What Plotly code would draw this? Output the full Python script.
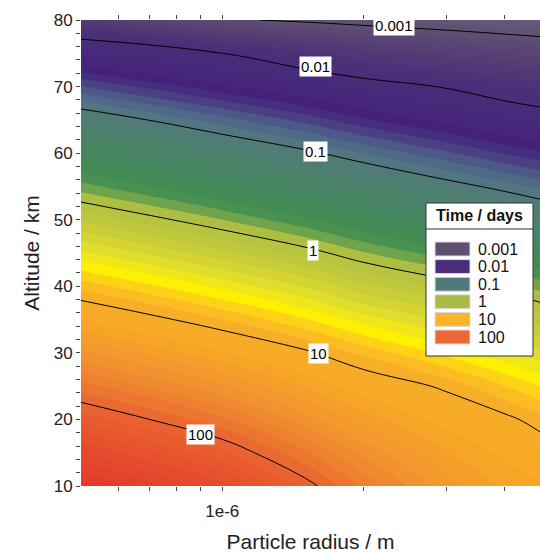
import math
import plotly.graph_objects as go

# ---- data: sedimentation time (log10 of days) on a radius x altitude grid ----
radius_m = [5e-7, 1e-6, 1.5e-6, 2e-6, 3e-6, 4e-6, 4.75e-6]
altitude_km = [10, 15, 20, 25, 30, 35, 40, 45, 50, 55, 60, 65, 70, 75, 77.5, 80]
log10_time_days = [
    [2.84, 2.44, 2.06, 1.78, 1.44, 1.28, 1.22],
    [2.51, 2.12, 1.81, 1.57, 1.31, 1.17, 1.10],
    [2.17, 1.82, 1.55, 1.35, 1.15, 1.04, 0.94],
    [1.84, 1.52, 1.29, 1.13, 0.97, 0.80, 0.70],
    [1.52, 1.21, 1.03, 0.87, 0.67, 0.52, 0.43],
    [1.19, 0.90, 0.71, 0.55, 0.38, 0.24, 0.15],
    [0.86, 0.57, 0.39, 0.23, 0.07, -0.05, -0.14],
    [0.52, 0.23, 0.06, -0.09, -0.26, -0.38, -0.46],
    [0.18, -0.10, -0.28, -0.42, -0.59, -0.72, -0.79],
    [-0.16, -0.45, -0.62, -0.75, -0.93, -1.05, -1.13],
    [-0.51, -0.79, -0.96, -1.10, -1.28, -1.41, -1.48],
    [-0.86, -1.16, -1.34, -1.48, -1.65, -1.76, -1.84],
    [-1.29, -1.58, -1.73, -1.86, -2.02, -2.18, -2.26],
    [-1.78, -2.00, -2.24, -2.42, -2.60, -2.70, -2.75],
    [-2.04, -2.47, -2.65, -2.77, -2.89, -2.96, -3.00],
    [-2.55, -2.96, -3.05, -3.11, -3.17, -3.22, -3.25],
]

# labelled contour levels (log10 days) and their printed text
line_levels = [-3, -2, -1, 0, 1, 2]
line_texts = ["0.001", "0.01", "0.1", "1", "10", "100"]
# where each label sits along its contour (radius, altitude)
label_radius = [2.32e-6, 1.58e-6, 1.58e-6, 1.56e-6, 1.60e-6, 9.0e-7]
label_altitude = [79.2, 73.0, 60.2, 45.4, 29.9, 17.8]

# legend swatches
legend_title = "Time / days"
legend_labels = ["0.001", "0.01", "0.1", "1", "10", "100"]
legend_colors = ["#5f5072", "#4a2e7b", "#527979", "#a8bb47", "#fbb52a", "#ec6733"]

# colour ramp keyed by log10(days)
ramp_values = [-3.3, -3.0, -2.6, -2.2, -1.8, -1.5, -1.35, -1.2, -1.05, -0.9, -0.6,
               -0.35, -0.18, -0.08, 0.0, 0.25, 0.5, 0.72, 0.85, 1.0, 1.3, 1.6,
               1.85, 2.05, 2.4, 2.9, 3.0]
ramp_colors = ["#6c5c7c", "#5f5072", "#563f74", "#4c3178", "#482a7a", "#44217a",
               "#483a82", "#4d5c88", "#517484", "#507c76", "#4a8466",
               "#3f8a56", "#4a9250", "#78a849", "#acbf42", "#c3ca3b", "#dedc2e",
               "#fff100", "#fdc81f", "#f8b028", "#f6a626", "#f29530",
               "#ee7f30", "#ea6731", "#e6532e", "#e33a2a", "#e2362a"]

zmin, zmax = ramp_values[0], ramp_values[-1]
colorscale = [[(v - zmin) / (zmax - zmin), c] for v, c in zip(ramp_values, ramp_colors)]

FONT = "Arial, Liberation Sans, sans-serif"
W, H = 540, 553
M_L, M_R, M_T, M_B = 81, 0, 20, 67

fig = go.Figure()

# finely banded filled contours
fig.add_trace(go.Contour(
    x=radius_m, y=altitude_km, z=log10_time_days,
    colorscale=colorscale, zmin=zmin, zmax=zmax, showscale=False,
    contours=dict(coloring="fill", start=-3.4, end=3.0, size=0.1, showlines=False),
    line=dict(width=0, smoothing=1.3),
    hoverinfo="skip",
))

# black decade lines
fig.add_trace(go.Contour(
    x=radius_m, y=altitude_km, z=log10_time_days,
    showscale=False,
    contours=dict(coloring="none", start=line_levels[0], end=line_levels[-1], size=1,
                  showlines=True),
    line=dict(color="black", width=1, smoothing=1.3),
    hoverinfo="skip",
))

# contour labels on white boxes
for txt, r, a in zip(line_texts, label_radius, label_altitude):
    fig.add_annotation(x=math.log10(r), y=a, xref="x", yref="y", text=txt,
                       showarrow=False, bgcolor="white", borderpad=1,
                       xanchor="center", yanchor="middle",
                       font=dict(family=FONT, size=15, color="black"))

# legend box drawn in paper coordinates
pw = W - M_L - M_R
ph = H - M_T - M_B


def px(x):
    return (x - M_L) / pw


def py(y):
    return (H - M_B - y) / ph


box_l, box_r, box_t, box_b, sep = 426, 533, 203, 356, 229
fig.add_shape(type="rect", xref="paper", yref="paper",
              x0=px(box_l), x1=px(box_r), y0=py(box_b), y1=py(box_t),
              fillcolor="white", line=dict(color="#333333", width=1))
fig.add_shape(type="line", xref="paper", yref="paper",
              x0=px(box_l), x1=px(box_r), y0=py(sep), y1=py(sep),
              line=dict(color="#333333", width=1))
fig.add_annotation(x=px((box_l + box_r) / 2), y=py((box_t + sep) / 2),
                   xref="paper", yref="paper", text="<b>" + legend_title + "</b>",
                   showarrow=False, xanchor="center", yanchor="middle",
                   font=dict(family=FONT, size=16, color="#111111"))
row0, row_step = 249, 17.6
for i, (lab, col) in enumerate(zip(legend_labels, legend_colors)):
    yc = row0 + i * row_step
    fig.add_shape(type="rect", xref="paper", yref="paper",
                  x0=px(435), x1=px(470), y0=py(yc + 7), y1=py(yc - 7),
                  fillcolor=col, line=dict(color="#dddddd", width=1))
    fig.add_annotation(x=px(476), y=py(yc), xref="paper", yref="paper",
                       text=lab, showarrow=False, xanchor="left", yanchor="middle",
                       font=dict(family=FONT, size=16, color="#111111"))

fig.update_layout(
    width=W, height=H,
    margin=dict(l=M_L, r=M_R, t=M_T, b=M_B, pad=0),
    paper_bgcolor="white", plot_bgcolor="white",
    font=dict(family=FONT, color="#222222"),
    showlegend=False,
    xaxis=dict(
        type="log", range=[math.log10(radius_m[0]), math.log10(radius_m[-1])],
        tickmode="array", tickvals=[1e-6], ticktext=["1e-6"],
        ticks="outside", ticklen=4, tickcolor="#444444", mirror="ticks",
        ticklabelstandoff=6, automargin=False,
        minor=dict(tickmode="array",
                   tickvals=[6e-7, 7e-7, 8e-7, 9e-7, 2e-6, 3e-6, 4e-6],
                   ticks="outside", ticklen=4, tickcolor="#444444"),
        showgrid=False, zeroline=False, showline=False,
        tickfont=dict(size=17, family=FONT, color="#222222"),
        title=dict(text="Particle radius / m", standoff=23,
                   font=dict(size=21, family=FONT, color="#222222")),
    ),
    yaxis=dict(
        range=[10, 80], tickmode="linear", tick0=10, dtick=10,
        ticks="outside", ticklen=4, tickcolor="#444444", mirror="ticks",
        automargin=False,
        minor=dict(tickmode="linear", tick0=10, dtick=2, ticks="outside",
                   ticklen=4, tickcolor="#444444"),
        showgrid=False, zeroline=False, showline=False,
        tickfont=dict(size=17, family=FONT, color="#222222"),
        title=dict(text="Altitude / km", standoff=8,
                   font=dict(size=21, family=FONT, color="#222222")),
    ),
)

fig.write_html("out.html")
